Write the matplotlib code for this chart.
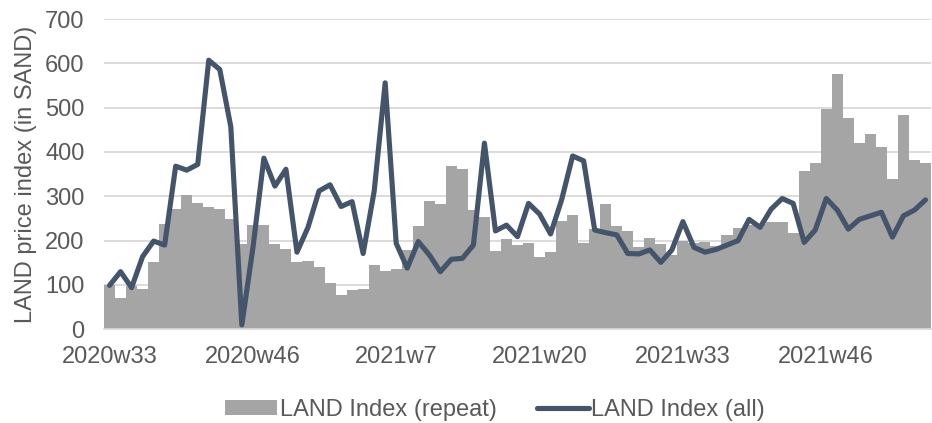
import numpy as np
from matplotlib import pyplot as plt

plt.rcParams['font.family'] = ['Liberation Sans', 'DejaVu Sans']

# Wochen: 2020w33 .. 2022w3
weeks = [f"2020w{w}" for w in range(33, 53)] + \
        [f"2021w{w}" for w in range(1, 53)] + \
        [f"2022w{w}" for w in range(1, 4)]

# LAND Index (repeat) - Balken
repeat = [100, 71, 97, 92, 151, 237, 272, 302, 286, 276,
          271, 248, 193, 235, 235, 192, 181, 151, 155, 140,
          105, 77, 89, 90, 145, 132, 137, 179, 233, 289,
          283, 369, 361, 269, 254, 176, 204, 190, 194, 162,
          174, 245, 257, 195, 226, 282, 234, 222, 186, 205,
          192, 168, 200, 195, 198, 188, 213, 228, 236, 238,
          242, 241, 218, 356, 376, 496, 577, 476, 420, 441,
          411, 340, 483, 382, 376]

# LAND Index (all) - Linie
alle = [99, 130, 94, 164, 199, 190, 368, 359, 372, 607,
        586, 457, 10, 183, 386, 323, 361, 174, 230, 312,
        326, 277, 288, 171, 311, 556, 194, 138, 198, 168,
        130, 158, 160, 190, 420, 222, 235, 209, 284, 260,
        215, 292, 391, 380, 224, 218, 213, 171, 170, 179,
        151, 179, 243, 185, 174, 180, 190, 200, 248, 230,
        271, 295, 284, 196, 224, 295, 269, 226, 248, 256,
        264, 208, 256, 269, 292]

tick_idx = [0, 13, 26, 39, 52, 65]

fig = plt.figure(figsize=(9.32, 4.23), dpi=100)
ax = fig.add_axes([104 / 932, (423 - 329.3) / 423, 827 / 932, 310.3 / 423])

x = np.arange(len(weeks))

# Balken und Linie
bars = ax.bar(x, repeat, width=1.0, color='#a5a5a5', zorder=2, label='LAND Index (repeat)')
line, = ax.plot(x, alle, color='#44546a', linewidth=3.7, zorder=3,
                solid_joinstyle='round', solid_capstyle='round', label='LAND Index (all)')

# Achsen
ax.set_xlim(-0.5, len(weeks) - 0.5)
ax.set_ylim(0, 700)
ax.set_yticks(range(0, 701, 100))
ax.set_xticks(tick_idx)
ax.set_xticklabels([weeks[i] for i in tick_idx])
ax.grid(axis='y', color='#d9d9d9', linewidth=1.3, zorder=0)
ax.set_axisbelow(True)
for s in ['top', 'right', 'left']:
    ax.spines[s].set_visible(False)
ax.spines['bottom'].set_color('#d9d9d9')
ax.spines['bottom'].set_linewidth(1.3)
ax.tick_params(axis='both', length=0, labelsize=17, colors='#595959')
ax.tick_params(axis='y', pad=14)
ax.tick_params(axis='x', pad=12)

# Beschriftung
ax.set_ylabel("LAND price index (in SAND)", fontsize=17, color='#595959', labelpad=6)

fig.legend(handles=[bars, line], loc='center', bbox_to_anchor=(495 / 932, 1 - 410 / 423), ncol=2,
           frameon=False, fontsize=17, labelcolor='#595959',
           handlelength=2.2, handleheight=0.6, handletextpad=0.1, columnspacing=1.7)

plt.savefig('out.png')
